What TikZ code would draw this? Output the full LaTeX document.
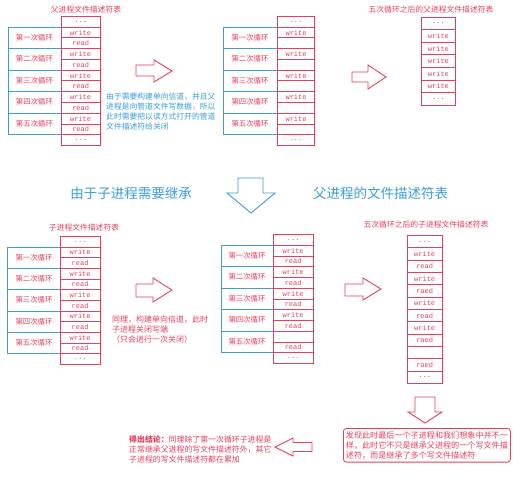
\documentclass[tikz,border=0pt]{standalone}
\usepackage{fontspec}
\setmainfont{Noto Sans CJK SC}
\newfontfamily\monof{Liberation Mono}
\definecolor{rd}{RGB}{232,62,92}
\definecolor{bl}{RGB}{58,158,220}
\newcommand\ddd{...}
\tikzset{
  cell/.style={draw=rd, line width=0.8pt, inner sep=0pt, anchor=north west,
    font=\monof\fontsize{7}{7}\selectfont, text=rd},
  bbox/.style={draw=bl, line width=0.8pt, inner sep=0pt, anchor=north west},
  lbl/.style={text=rd, inner sep=0pt, font=\fontsize{7.4}{8}\selectfont},
  ttl/.style={text=rd, inner sep=0pt, font=\fontsize{7.8}{8}\selectfont},
  bluetext/.style={text=bl, inner sep=0pt, anchor=north west, align=left,
    font=\fontsize{7.8}{10}\selectfont},
  redtext/.style={text=rd, inner sep=0pt, anchor=north west, align=left,
    font=\fontsize{7.9}{10}\selectfont},
  bigblue/.style={text=bl, inner sep=0pt, font=\fontsize{13.5}{14}\selectfont},
  harrow/.style={draw=rd, line width=0.9pt, fill=white, line join=miter},
  barrow/.style={draw=bl, line width=0.9pt, fill=white, line join=miter},
}
% table: name, x left, width, y top, row height, contents
\newcommand\fdtab[6]{%
  \foreach \t [count=\i from 0] in {#6}{%
    \node[cell, minimum width=#3pt, minimum height=#5pt] (#1-\i) at (#2,{#4+\i*#5}) {\t};}}
% loop boxes: name, x left, width, y top of first, row height, label x
\newcommand\loopboxes[6]{%
  \foreach \l [count=\k] in {第一次循环,第二次循环,第三次循环,第四次循环,第五次循环}{%
    \node[bbox, minimum width=#3pt, minimum height={2*#5pt}] (#1-b\k) at (#2,{#4+(2*\k-2)*#5}) {};
    \node[lbl] (#1-l\k) at (#6,{#4+(2*\k-1)*#5}) {\l};}}
\begin{document}
\begin{tikzpicture}[x=1pt,y=-1pt]
\useasboundingbox[fill=white] (0,0) rectangle (513,500);

% ---------- panel 1 ----------
\node[ttl] (t1) at (86,10) {父进程文件描述符表};
\loopboxes{p1}{8}{91.5}{26.75}{10.75}{34.5}
\fdtab{c1}{61}{38.5}{16}{10.75}{\ddd,write,read,write,read,write,read,write,read,write,read,\ddd}

% ---------- panel 2 ----------
\loopboxes{p2}{223}{91.3}{26.75}{10.75}{250}
\fdtab{c2}{277}{37.3}{16}{10.75}{\ddd,write,{},write,{},write,{},write,{},write,{},\ddd}

% ---------- panel 3 ----------
\node[ttl] (t3) at (431,10) {五次循环之后的父进程文件描述符表};
\fdtab{c3}{420.7}{34.6}{16.7}{12.6}{\ddd,write,write,write,write,write,\ddd}

% top arrows
\draw[harrow] (136,65) -- (154,65) -- (154,60) -- (172,71) -- (154,82) -- (154,76) -- (136,76) -- cycle;
\draw[harrow] (352,72) -- (368,72) -- (368,65) -- (386,77) -- (368,89) -- (368,82) -- (352,82) -- cycle;

\node[bluetext] (n1) at (106,93) {由于需要构建单向信道，并且父\\进程是向管道文件写数据，所以\\此时需要把以读方式打开的管道\\文件描述符给关闭};

% ---------- middle ----------
\node[bigblue] (h1) at (131,193) {由于子进程需要继承};
\node[bigblue] (h2) at (380.5,193) {父进程的文件描述符表};
\draw[barrow] (238,178) -- (263,178) -- (263,193) -- (275,193) -- (251,213) -- (227,193) -- (238,193) -- cycle;

% ---------- panel 4 ----------
\node[ttl] (t4) at (84,228) {子进程文件描述符表};
\loopboxes{p4}{7}{92.5}{246.67}{10.67}{34}
\fdtab{c4}{60}{39.5}{236}{10.67}{\ddd,write,read,write,read,write,read,write,read,write,read,\ddd}
\draw[harrow] (136,284) -- (153,284) -- (153,278) -- (172,290) -- (153,302) -- (153,297) -- (136,297) -- cycle;
\node[redtext, font=\fontsize{8}{10}\selectfont] (n4) at (112,316) {同理，构建单向信道，此时\\子进程关闭写端\\（只会进行一次关闭）};

% ---------- panel 5 ----------
\loopboxes{p5}{221}{91.5}{244.75}{10.75}{247}
\fdtab{c5}{273}{39.5}{234}{10.75}{\ddd,write,read,write,read,write,read,write,read,{},read,\ddd}
\draw[harrow] (345,284) -- (363,284) -- (363,278) -- (381,289) -- (363,300) -- (363,296) -- (345,296) -- cycle;

% ---------- panel 6 ----------
\node[ttl] (t6) at (426,225) {五次循环之后的子进程文件描述符表};
\fdtab{c6}{407}{34.5}{235}{12.33}{\ddd,write,read,write,raed,write,read,write,raed,{},raed,\ddd}
\draw[harrow] (415,397) -- (435,397) -- (435,412) -- (442,412) -- (425,423) -- (408,412) -- (415,412) -- cycle;

\node[draw=rd, line width=0.8pt, rounded corners=3pt, anchor=north west, align=left,
  text=rd, inner xsep=2pt, inner ysep=3pt, minimum width=167pt,
  font=\fontsize{8.1}{10}\selectfont] (box) at (343,428)
  {发现此时最后一个子进程和我们想象中并不一\\样，此时它不只是继承父进程的一个写文件描\\述符，而是继承了多个写文件描述符};

\draw[harrow] (275,447) -- (293,438) -- (293,442.5) -- (312,442.5) -- (312,451.5) -- (293,451.5) -- (293,456) -- cycle;

\node[redtext] (concl) at (129,435) {\textbf{得出结论：}同理除了第一次循环子进程是\\正常继承父进程的写文件描述符外，其它\\子进程的写文件描述符都在累加};
\end{tikzpicture}
\end{document}
